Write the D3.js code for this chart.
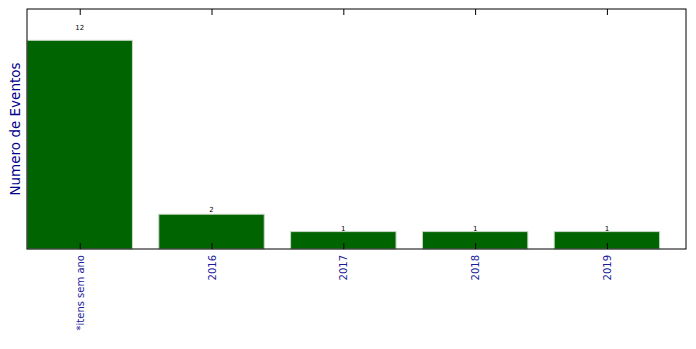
<!DOCTYPE html>
<html><head><meta charset="utf-8">
<script src="https://cdn.jsdelivr.net/npm/d3@7"></script>
<style>body{margin:0;background:#fff}svg{display:block}text{font-family:"DejaVu Sans",sans-serif}</style>
</head><body><svg id="c" width="696" height="349"></svg>
<script>
const categories = ["*itens sem ano", "2016", "2017", "2018", "2019"];
const values = [12, 2, 1, 1, 1];
const yLabel = "Numero de Eventos";

const W = 696, H = 349;
const m = {left: 27, right: 10, top: 9, bottom: 100};
const pw = W - m.left - m.right, ph = H - m.top - m.bottom;
const svg = d3.select("#c");
const g = svg.append("g").attr("transform", `translate(${m.left},${m.top})`);

const x = d3.scaleLinear().domain([-0.4, categories.length - 0.4]).range([0, pw]);
const y = d3.scaleLinear().domain([0, d3.max(values) * 1.15]).range([ph, 0]);
const bw = 0.8;

g.selectAll("rect.bar").data(values).join("rect").attr("class", "bar")
  .attr("x", (d, i) => x(i - bw / 2)).attr("width", x(bw) - x(0))
  .attr("y", d => y(d)).attr("height", d => y(0) - y(d))
  .attr("fill", "#006400").attr("stroke", "#c8d8c8").attr("stroke-width", 1);

g.selectAll("text.val").data(values).join("text").attr("class", "val")
  .attr("x", (d, i) => x(i)).attr("y", d => y(d * 1.05))
  .attr("text-anchor", "middle").attr("font-size", 7).attr("fill", "#000")
  .text(d => d);

// frame
g.append("rect").attr("width", pw).attr("height", ph).attr("fill", "none")
  .attr("stroke", "#000").attr("stroke-width", 1);

// ticks inside, top and bottom
const ticks = d3.range(categories.length);
const bottomAxis = d3.axisBottom(x).tickValues(ticks).tickSize(-6).tickFormat(d => categories[d]);
const ba = g.append("g").attr("transform", `translate(0,${ph})`).call(bottomAxis);
ba.select(".domain").remove();
ba.selectAll("line").attr("stroke", "#000");
ba.selectAll("text").attr("font-size", 10).attr("fill", "#1a1a9a")
  .attr("transform", "rotate(-90)").attr("text-anchor", "end")
  .attr("x", -6).attr("y", 0).attr("dy", "0.35em");

const topAxis = d3.axisTop(x).tickValues(ticks).tickSize(-6).tickFormat("");
const ta = g.append("g").call(topAxis);
ta.select(".domain").remove();
ta.selectAll("line").attr("stroke", "#000");

svg.append("text").attr("transform", `translate(20,${m.top + ph / 2}) rotate(-90)`)
  .attr("text-anchor", "middle").attr("font-size", 13.5).attr("fill", "#00008b")
  .text(yLabel);
</script></body></html>
